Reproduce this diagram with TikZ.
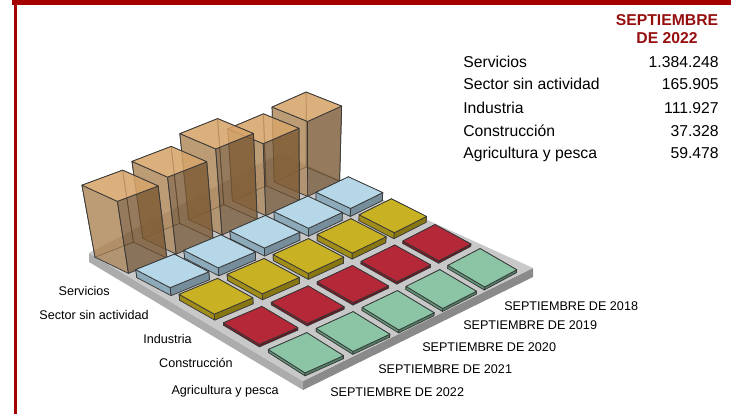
\documentclass[tikz,border=0pt]{standalone}
\usepackage{fontspec}
\setmainfont{Liberation Sans}
\definecolor{rimred}{RGB}{165,0,0}
\definecolor{headred}{RGB}{150,15,15}
\definecolor{plateT}{RGB}{200,200,200}
\definecolor{plateL}{RGB}{172,172,172}
\definecolor{plateR}{RGB}{138,138,138}
\definecolor{svcT}{RGB}{216,165,106}
\definecolor{svcB}{RGB}{200,150,90}
\definecolor{svcL}{RGB}{168,128,80}
\definecolor{svcR}{RGB}{112,80,45}
\definecolor{sinT}{RGB}{182,215,232}
\definecolor{sinL}{RGB}{140,170,186}
\definecolor{sinR}{RGB}{118,142,156}
\definecolor{indT}{RGB}{200,178,36}
\definecolor{indL}{RGB}{160,140,24}
\definecolor{indR}{RGB}{135,118,18}
\definecolor{conT}{RGB}{180,40,56}
\definecolor{conL}{RGB}{125,28,38}
\definecolor{conR}{RGB}{105,22,32}
\definecolor{agrT}{RGB}{140,196,166}
\definecolor{agrL}{RGB}{98,148,120}
\definecolor{agrR}{RGB}{82,128,102}
% grid position (row, column, height) -> picture coordinates
\pgfmathdeclarefunction{gx}{3}{%
  \begingroup
  \pgfmathparse{(#2-1)/4}\let\gu\pgfmathresult
  \pgfmathparse{(#1-1)/4}\let\gv\pgfmathresult
  \pgfmathparse{131+176*(\gu)+175*(\gv)+16*(\gu)*(1-(\gu))-8*(\gv)*(1-(\gv))}\let\gxb\pgfmathresult
  \pgfmathparse{\gxb+(\gxb-308)*0.00085*(#3)}%
  \pgfmathsmuggle\pgfmathresult
  \endgroup}
\pgfmathdeclarefunction{gy}{3}{%
  \begingroup
  \pgfmathparse{(#2-1)/4}\let\gu\pgfmathresult
  \pgfmathparse{(#1-1)/4}\let\gv\pgfmathresult
  \pgfmathparse{257.5-76*(\gu)+98*(\gv)-9*(\gu)*(\gv)-18*(\gv)*(1-(\gv))-(#3)}%
  \pgfmathsmuggle\pgfmathresult
  \endgroup}
\newcommand\prism[4]{%
  \pgfmathsetmacro\ra{#1-0.4}\pgfmathsetmacro\rb{#1+0.4}%
  \pgfmathsetmacro\ca{#2-0.4}\pgfmathsetmacro\cb{#2+0.4}%
  \coordinate (lb) at ({gx(\ra,\ca,0)},{gy(\ra,\ca,0)});
  \coordinate (kb) at ({gx(\ra,\cb,0)},{gy(\ra,\cb,0)});
  \coordinate (rb) at ({gx(\rb,\cb,0)},{gy(\rb,\cb,0)});
  \coordinate (fb) at ({gx(\rb,\ca,0)},{gy(\rb,\ca,0)});
  \coordinate (lt) at ({gx(\ra,\ca,#3)},{gy(\ra,\ca,#3)});
  \coordinate (kt) at ({gx(\ra,\cb,#3)},{gy(\ra,\cb,#3)});
  \coordinate (rt) at ({gx(\rb,\cb,#3)},{gy(\rb,\cb,#3)});
  \coordinate (ft) at ({gx(\rb,\ca,#3)},{gy(\rb,\ca,#3)});
  \filldraw [#4 back] (lb) -- (kb) -- (kt) -- (lt) -- cycle;
  \filldraw [#4 back] (kb) -- (rb) -- (rt) -- (kt) -- cycle;
  \filldraw [#4 left] (lb) -- (fb) -- (ft) -- (lt) -- cycle;
  \filldraw [#4 right] (fb) -- (rb) -- (rt) -- (ft) -- cycle;
  \filldraw [#4 top] (lt) -- (kt) -- (rt) -- (ft) -- cycle;
}

\begin{document}
\begin{tikzpicture}[x=0.75pt,y=-0.75pt]
	\tikzstyle{every node}+=[inner sep=0pt]
	\tikzstyle{edge}=[draw=black!78,line width=0.55pt,line join=round]
	\tikzstyle{svc top}=[edge,fill=svcT,fill opacity=0.8]
	\tikzstyle{svc left}=[edge,fill=svcL,fill opacity=0.7]
	\tikzstyle{svc right}=[edge,fill=svcR,fill opacity=0.7]
	\tikzstyle{svc back}=[edge,fill=svcB,fill opacity=0.3]
	\tikzstyle{sin top}=[edge,fill=sinT]
	\tikzstyle{sin left}=[edge,fill=sinL]
	\tikzstyle{sin right}=[edge,fill=sinR]
	\tikzstyle{sin back}=[fill=sinL]
	\tikzstyle{ind top}=[edge,fill=indT]
	\tikzstyle{ind left}=[edge,fill=indL]
	\tikzstyle{ind right}=[edge,fill=indR]
	\tikzstyle{ind back}=[fill=indL]
	\tikzstyle{con top}=[edge,fill=conT]
	\tikzstyle{con left}=[edge,fill=conL]
	\tikzstyle{con right}=[edge,fill=conR]
	\tikzstyle{con back}=[fill=conL]
	\tikzstyle{agr top}=[edge,fill=agrT]
	\tikzstyle{agr left}=[edge,fill=agrL]
	\tikzstyle{agr right}=[edge,fill=agrR]
	\tikzstyle{agr back}=[fill=agrL]
	\tikzstyle{axis}=[font=\fontsize{9.45}{11}\selectfont]
	\tikzstyle{tab}=[font=\fontsize{11.8}{14}\selectfont]
	\tikzstyle{hdr}=[font=\fontsize{11.8}{14}\selectfont\bfseries,text=headred]
	\useasboundingbox (0,0) rectangle (731,414);
	\fill [rimred] (12,0) rectangle (731,5);
	\fill [rimred] (13.5,0) rectangle (16.5,414);
	% floor
	\fill [plateL] (89,253) -- (303,381) -- (303,390) -- (89,262) -- cycle;
	\fill [plateR] (303,381) -- (533,268) -- (533,277) -- (303,390) -- cycle;
	\fill [plateT] (89,253) -- (280,153) -- (533,268) -- (303,381) -- cycle;
	% Servicios
	\prism{1}{5}{75}{svc}
	\prism{1}{4}{72}{svc}
	\prism{1}{3}{86}{svc}
	\prism{1}{2}{77}{svc}
	\prism{1}{1}{72}{svc}
	% Sector sin actividad
	\prism{2}{5}{8}{sin}
	\prism{2}{4}{8}{sin}
	\prism{2}{3}{8}{sin}
	\prism{2}{2}{8}{sin}
	\prism{2}{1}{8}{sin}
	% Industria
	\prism{3}{5}{6}{ind}
	\prism{3}{4}{6}{ind}
	\prism{3}{3}{6}{ind}
	\prism{3}{2}{6}{ind}
	\prism{3}{1}{6}{ind}
	% Construccion
	\prism{4}{5}{2.5}{con}
	\prism{4}{4}{2.5}{con}
	\prism{4}{3}{2.5}{con}
	\prism{4}{2}{2.5}{con}
	\prism{4}{1}{2.5}{con}
	% Agricultura y pesca
	\prism{5}{5}{3}{agr}
	\prism{5}{4}{3}{agr}
	\prism{5}{3}{3}{agr}
	\prism{5}{2}{3}{agr}
	\prism{5}{1}{3}{agr}
	% axis labels
	\draw (110,295) node (lsvc) [axis,anchor=base east] {Servicios};
	\draw (149,319) node (lsin) [axis,anchor=base east] {Sector sin actividad};
	\draw (192,343) node (lind) [axis,anchor=base east] {Industria};
	\draw (233,367) node (lcon) [axis,anchor=base east] {Construcción};
	\draw (279,394) node (lagr) [axis,anchor=base east] {Agricultura y pesca};
	\draw (504,310) node (y18) [axis,anchor=base west] {SEPTIEMBRE DE 2018};
	\draw (463,329) node (y19) [axis,anchor=base west] {SEPTIEMBRE DE 2019};
	\draw (422,351) node (y20) [axis,anchor=base west] {SEPTIEMBRE DE 2020};
	\draw (378,373) node (y21) [axis,anchor=base west] {SEPTIEMBRE DE 2021};
	\draw (330,396) node (y22) [axis,anchor=base west] {SEPTIEMBRE DE 2022};
	% table
	\draw (667,25) node (hd1) [hdr,anchor=base] {SEPTIEMBRE};
	\draw (667,43) node (hd2) [hdr,anchor=base] {DE 2022};
	\draw (463,67) node (tsvc) [tab,anchor=base west] {Servicios};
	\draw (719,67) node (vsvc) [tab,anchor=base east] {1.384.248};
	\draw (463,89) node (tsin) [tab,anchor=base west] {Sector sin actividad};
	\draw (719,89) node (vsin) [tab,anchor=base east] {165.905};
	\draw (463,113) node (tind) [tab,anchor=base west] {Industria};
	\draw (719,113) node (vind) [tab,anchor=base east] {111.927};
	\draw (463,136) node (tcon) [tab,anchor=base west] {Construcción};
	\draw (719,136) node (vcon) [tab,anchor=base east] {37.328};
	\draw (463,158) node (tagr) [tab,anchor=base west] {Agricultura y pesca};
	\draw (719,158) node (vagr) [tab,anchor=base east] {59.478};
\end{tikzpicture}
\end{document}
